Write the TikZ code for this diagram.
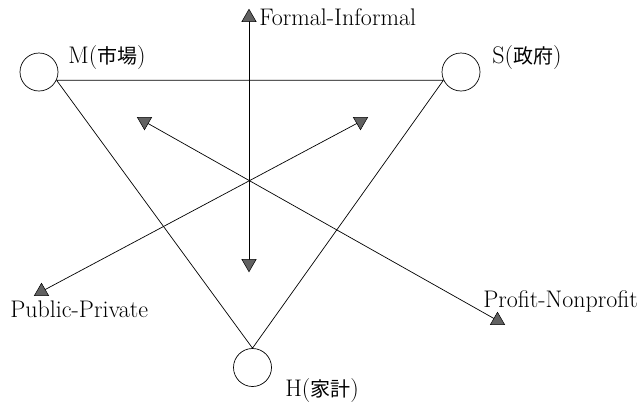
\documentclass[tikz,border=0pt]{standalone}
\usepackage{fontspec}
\newfontfamily\cjk{Noto Sans CJK JP}
\usetikzlibrary{shapes.geometric}
\tikzset{
  sector/.style={draw,circle,minimum size=38pt,inner sep=0pt},
  tipup/.style={draw,fill=black!62,regular polygon,regular polygon sides=3,minimum size=16.5pt,inner sep=0pt,line width=0.5pt},
  tipdown/.style={tipup,shape border rotate=180},
  lbl/.style={anchor=base west,inner sep=0pt,font=\fontsize{24}{27}\selectfont}
}
\begin{document}
\begin{tikzpicture}[x=1pt,y=-1pt,line width=0.7pt]
  \clip (0,0) rectangle (640,402);
  % the three sectors
  \node[sector] (M) at (39,72) {};
  \node[sector] (S) at (461,72) {};
  \node[sector] (H) at (252.5,367.5) {};
  \draw (M.-25)--(S.205) (M.-25)--(H.90) (S.205)--(H.90);
  \node[lbl] (Mlab) at (68,63) {M({\cjk\fontsize{20}{24}\selectfont 市場})};
  \node[lbl] (Slab) at (492,63) {S({\cjk\fontsize{20}{24}\selectfont 政府})};
  \node[lbl] (Hlab) at (285,396) {H({\cjk\fontsize{20}{24}\selectfont 家計})};
  % axes
  \coordinate (fi1) at (249,17.5); \coordinate (fi2) at (249,263.5);
  \coordinate (pn1) at (144.5,121.5); \coordinate (pn2) at (497.5,320.5);
  \coordinate (pp1) at (360.5,121.5); \coordinate (pp2) at (41.5,291.5);
  \draw (fi1)--(fi2); \draw (pn1)--(pn2); \draw (pp1)--(pp2);
  \node[tipup] at (fi1) {}; \node[tipdown] at (fi2) {};
  \node[tipdown] at (pn1) {}; \node[tipup] at (pn2) {};
  \node[tipdown] at (pp1) {}; \node[tipup] at (pp2) {};
  \node[lbl] (FIlab) at (259,25) {Formal-Informal};
  \node[lbl] (PPlab) at (10,317) {Public-Private};
  \node[lbl] (PNlab) at (483,307) {Profit-Nonprofit};
\end{tikzpicture}
\end{document}
